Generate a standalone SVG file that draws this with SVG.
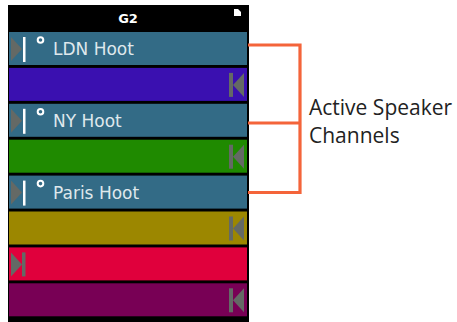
<svg xmlns="http://www.w3.org/2000/svg" width="457" height="322" viewBox="0 0 457 322">
<defs>
<style>
.lbl{font-family:"DejaVu Sans",Verdana,sans-serif;font-size:17px;fill:#dfe8ec}
.ring{fill:none;stroke:#ffffff;stroke-width:2}
.gray{fill:#646965}
.wbar{fill:#ffffff}
.note{font-family:"Open Sans","Liberation Sans",sans-serif;font-size:21px;fill:#222222}
.br{fill:none;stroke:#f4643a;stroke-width:3.2}
</style>
<g id="spkL"><polygon class="gray" points="11,5 22,17 11,29"/></g>
<g id="spkR"><rect class="gray" x="229" y="5" width="4" height="24"/><polygon class="gray" points="244,5 233,17 244,29"/></g>
</defs>
<rect width="457" height="322" fill="#ffffff"/>
<g id="panel">
<rect x="8" y="5" width="241" height="317" fill="#000000"/>
<text x="128" y="23" text-anchor="middle" font-family="DejaVu Sans,sans-serif" font-weight="bold" font-size="13" fill="#ffffff">G2</text>
<polygon points="234,9 238,9 241,12 241,16 234,16" fill="#ffffff"/>
</g>
<g id="row-ldn" transform="translate(0,32)">
<rect x="9" y="0" width="238" height="33" fill="#336b86"/>
<use href="#spkL"/><rect class="wbar" x="23" y="5" width="2.5" height="25"/>
<circle class="ring" cx="40.5" cy="8" r="2.8"/>
<text class="lbl" x="53" y="23">LDN Hoot</text>
</g>
<g id="row-2" transform="translate(0,67.9)">
<rect x="9" y="0" width="238" height="33" fill="#3a10b0"/>
<use href="#spkR"/>
</g>
<g id="row-ny" transform="translate(0,103.8)">
<rect x="9" y="0" width="238" height="33" fill="#336b86"/>
<use href="#spkL"/><rect class="wbar" x="23" y="5" width="2.5" height="25"/>
<circle class="ring" cx="40.5" cy="8" r="2.8"/>
<text class="lbl" x="53" y="23">NY Hoot</text>
</g>
<g id="row-4" transform="translate(0,139.7)">
<rect x="9" y="0" width="238" height="33" fill="#1f8a00"/>
<use href="#spkR"/>
</g>
<g id="row-paris" transform="translate(0,175.6)">
<rect x="9" y="0" width="238" height="33" fill="#336b86"/>
<use href="#spkL"/><rect class="wbar" x="23" y="5" width="2.5" height="25"/>
<circle class="ring" cx="40.5" cy="8" r="2.8"/>
<text class="lbl" x="53" y="23">Paris Hoot</text>
</g>
<g id="row-6" transform="translate(0,211.5)">
<rect x="9" y="0" width="238" height="33" fill="#9c8700"/>
<use href="#spkR"/>
</g>
<g id="row-7" transform="translate(0,247.4)">
<rect x="9" y="0" width="238" height="33" fill="#e0003c"/>
<use href="#spkL"/><rect class="gray" x="22" y="5" width="3.5" height="24"/>
</g>
<g id="row-8" transform="translate(0,283.3)">
<rect x="9" y="0" width="238" height="33" fill="#780055"/>
<use href="#spkR"/>
</g>
<g id="connectors">
<polyline class="br" points="248,45 300,45 300,192.5 248,192.5"/>
<line class="br" x1="248" y1="123" x2="300" y2="123"/>
</g>
<g id="label">
<text class="note" x="309" y="115">Active Speaker</text>
<text class="note" x="309" y="143">Channels</text>
</g>
</svg>
